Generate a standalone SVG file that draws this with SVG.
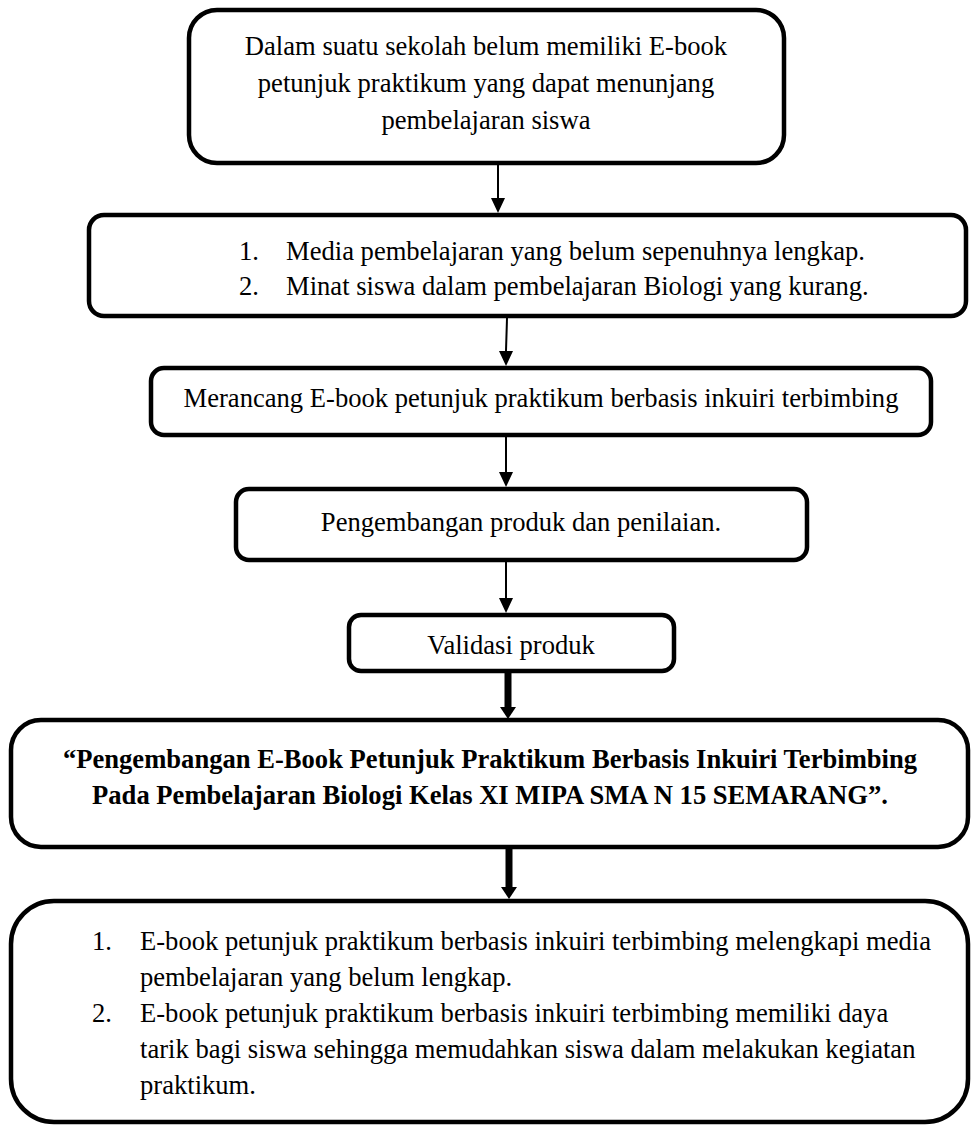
<svg xmlns="http://www.w3.org/2000/svg" width="972" height="1126" viewBox="0 0 972 1126">
<defs>
<style>
.box{fill:#fff;stroke:#000;stroke-width:4.5}
.t{font-family:"Liberation Serif","Times New Roman",serif;font-size:26.6px;fill:#000}
.c{text-anchor:middle}
.b{font-weight:bold}
.thin{stroke:#000;stroke-width:2;fill:none}
.thick{stroke:#000;stroke-width:7;fill:none}
</style>
</defs>
<rect width="972" height="1126" fill="#fff"/>
<g id="connectors">
<line class="thin" x1="498" y1="165" x2="498" y2="198"/>
<path d="M491,198 L505,198 L498,213 Z" fill="#000"/>
<line class="thin" x1="507" y1="318" x2="506" y2="351"/>
<path d="M499,351 L513,351 L506,366 Z" fill="#000"/>
<line class="thin" x1="506" y1="437" x2="506" y2="472"/>
<path d="M499,472 L513,472 L506,487 Z" fill="#000"/>
<line class="thin" x1="506" y1="562" x2="506" y2="598"/>
<path d="M499,598 L513,598 L506,613 Z" fill="#000"/>
<line class="thick" x1="508" y1="673" x2="508" y2="708"/>
<path d="M500,707 L516,707 L508,719 Z" fill="#000"/>
<line class="thick" x1="509" y1="849" x2="509" y2="888"/>
<path d="M501,887 L517,887 L509,899 Z" fill="#000"/>
</g>
<g id="node1">
<rect class="box" x="189" y="10" width="595" height="153" rx="28"/>
<text class="t c" x="486" y="55">Dalam suatu sekolah belum memiliki E-book</text>
<text class="t c" x="486" y="92">petunjuk praktikum yang dapat menunjang</text>
<text class="t c" x="486" y="129">pembelajaran siswa</text>
</g>
<g id="node2">
<rect class="box" x="89" y="215" width="877" height="101" rx="15"/>
<text class="t" x="239" y="260">1.</text>
<text class="t" x="286" y="260">Media pembelajaran yang belum sepenuhnya lengkap.</text>
<text class="t" x="239" y="295">2.</text>
<text class="t" x="286" y="295">Minat siswa dalam pembelajaran Biologi yang kurang.</text>
</g>
<g id="node3">
<rect class="box" x="151" y="368" width="780" height="67" rx="13"/>
<text class="t c" x="541" y="407">Merancang E-book petunjuk praktikum berbasis inkuiri terbimbing</text>
</g>
<g id="node4">
<rect class="box" x="236" y="489" width="571" height="71" rx="13"/>
<text class="t c" x="521" y="531">Pengembangan produk dan penilaian.</text>
</g>
<g id="node5">
<rect class="box" x="349" y="615" width="325" height="56" rx="12"/>
<text class="t c" x="511" y="654">Validasi produk</text>
</g>
<g id="node6">
<rect class="box" x="11" y="720" width="957" height="127" rx="30"/>
<text class="t c b" x="490" y="768">“Pengembangan E-Book Petunjuk Praktikum Berbasis Inkuiri Terbimbing</text>
<text class="t c b" x="490" y="804">Pada Pembelajaran Biologi Kelas XI MIPA SMA N 15 SEMARANG”.</text>
</g>
<g id="node7">
<rect class="box" x="11" y="901" width="957" height="221" rx="43"/>
<text class="t" x="92" y="950">1.</text>
<text class="t" x="140" y="950">E-book petunjuk praktikum berbasis inkuiri terbimbing melengkapi media</text>
<text class="t" x="140" y="986">pembelajaran yang belum lengkap.</text>
<text class="t" x="92" y="1022">2.</text>
<text class="t" x="140" y="1022">E-book petunjuk praktikum berbasis inkuiri terbimbing memiliki daya</text>
<text class="t" x="140" y="1058">tarik bagi siswa sehingga memudahkan siswa dalam melakukan kegiatan</text>
<text class="t" x="140" y="1094">praktikum.</text>
</g>
</svg>
